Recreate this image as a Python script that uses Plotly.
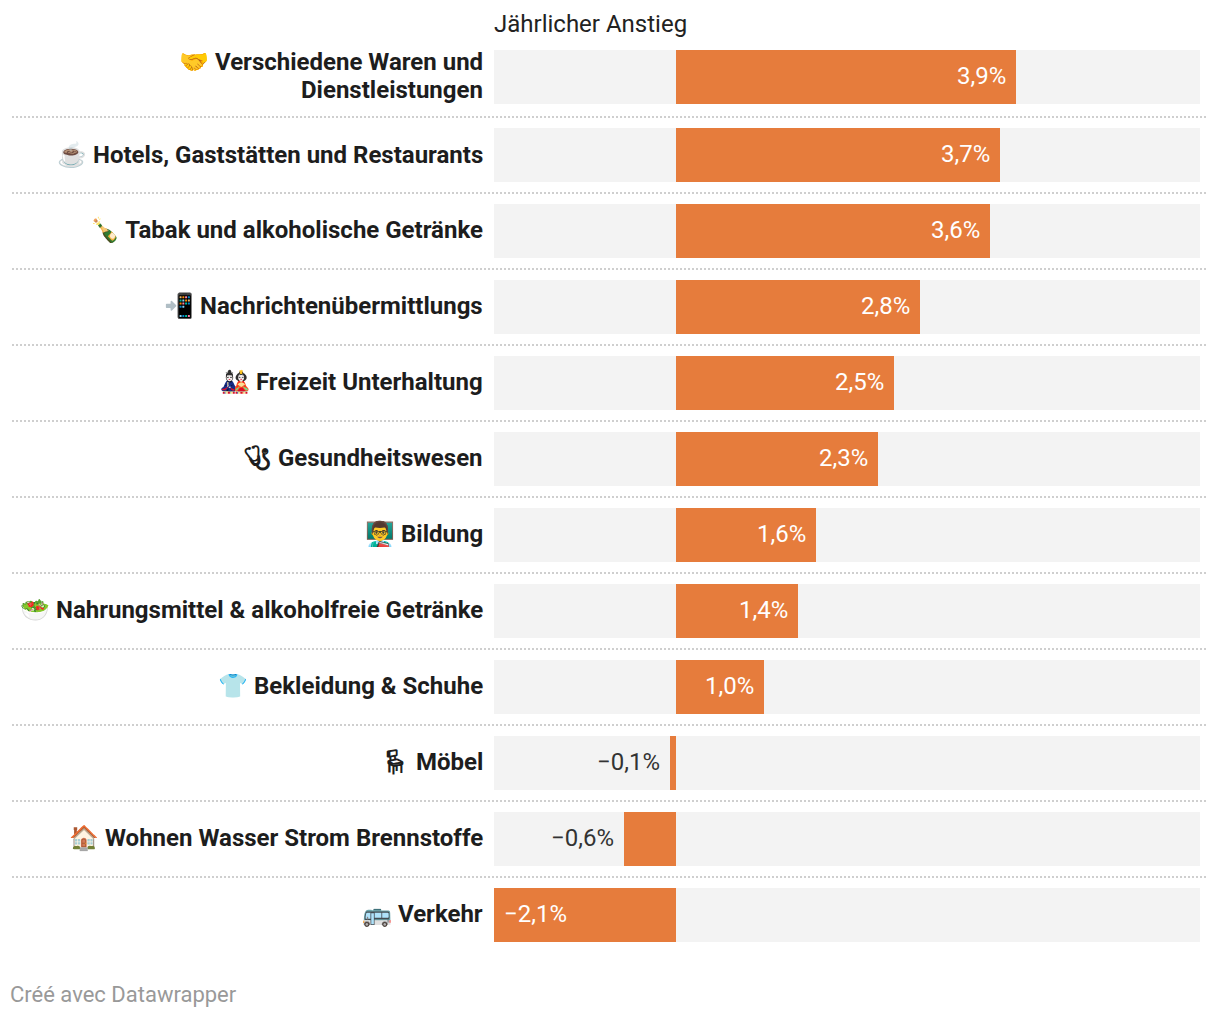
import plotly.graph_objects as go

categories = [
    "Hotels, Gaststätten und Restaurants", "Tabak und alkoholische Getränke",
    "Nachrichtenübermittlungs", "Freizeit Unterhaltung", "Gesundheitswesen", "Bildung",
    "Nahrungsmittel & alkoholfreie Getränke", "Bekleidung & Schuhe", "Möbel",
    "Wohnen Wasser Strom Brennstoffe", "Verkehr",
]
emojis = ["☕", "🍾", "📲", "🎎", "🩺\ufe0e", "👨‍🏫", "🥗", "👕", "🪑\ufe0e", "🏠", "🚌"]
values = [3.72, 3.6, 2.8, 2.5, 2.32, 1.6, 1.4, 1.01, -0.07, -0.6, -2.1]
top_lines = ["Verschiedene Waren und", "Dienstleistungen"]
top_emoji = "🤝"
top_value = [3.9]
title = "Jährlicher Anstieg"
credit = "Créé avec Datawrapper"
AXIS_MIN, AXIS_MAX = -2.09, 6.01
W, H = 1220, 1018
L, R = 494, 1200
ORANGE, GREY = "#e67c3c", "#f3f3f3"


def fmt(v):
    return ("−" if v < 0 else "") + f"{abs(v):.1f}".replace(".", ",") + "%"


def py(p):
    return 1 - p / H


def px(p):
    return (p - L) / (R - L)


fig = go.Figure()
rows = [f"{e} {c}" for e, c in zip(emojis, categories)]
span = AXIS_MAX - AXIS_MIN
fig.add_bar(y=rows, x=[span] * len(rows), base=AXIS_MIN, marker_color=GREY, width=54 / 76, hoverinfo="skip", yaxis="y")
fig.add_bar(y=rows, x=values, marker_color=ORANGE, width=54 / 76, yaxis="y")
fig.add_bar(y=["top"], x=[span], base=AXIS_MIN, marker_color=GREY, width=1, hoverinfo="skip", yaxis="y2")
fig.add_bar(y=["top"], x=top_value, marker_color=ORANGE, width=1, yaxis="y2")
for t in fig.data:
    t.orientation = "h"
    t.marker.line.width = 0

ann = []


def vlabel(v, yref, y):
    if v > 0:
        x, xa, xs, col = v, "right", -8, "#ffffff"
    elif v < -1:
        x, xa, xs, col = max(v, AXIS_MIN), "left", 8, "#ffffff"
    else:
        x, xa, xs, col = v, "right", -8, "#333333"
    ann.append(dict(x=x, y=y, xref="x", yref=yref, text=fmt(v), showarrow=False, xanchor=xa, xshift=xs, yshift=1,
                    yanchor="middle", font=dict(family="Roboto", size=24, color=col)))


def clabel(text, yref, y, yshift=0):
    ann.append(dict(x=0, y=y, xref="paper", yref=yref, text=f"<b>{text}</b>", showarrow=False, xanchor="right",
                    xshift=-9, yshift=yshift + 1, yanchor="middle", align="right",
                    font=dict(family="Roboto", size=24, color="#1d1d1d")))


clabel(f"{top_emoji} {top_lines[0]}", "y2", "top", 14)
clabel(top_lines[1], "y2", "top", -14)
vlabel(top_value[0], "y2", "top")
for r, v in zip(rows, values):
    clabel(r, "y", r)
    vlabel(v, "y", r)

ann.append(dict(x=0, y=py(24), xref="paper", yref="paper", text=title, showarrow=False, xanchor="left", xshift=-2,
                yanchor="middle", font=dict(family="Roboto", size=24, color="#222222")))
ann.append(dict(x=px(10), y=py(995), xref="paper", yref="paper", text=credit, showarrow=False, xanchor="left",
                xshift=-2, yshift=1, yanchor="middle", font=dict(family="Roboto", size=22, color="#999999")))

shapes = [dict(type="line", xref="paper", yref="paper", x0=px(12), x1=px(1208),
               y0=py(117 + 76 * i), y1=py(117 + 76 * i), line=dict(color="#cfcfcf", width=2, dash="2px 2px"))
          for i in range(11)]

fig.update_layout(
    width=W, height=H, autosize=False, barmode="overlay", bargap=0, showlegend=False,
    margin=dict(l=L, r=W - R, t=0, b=0), paper_bgcolor="white", plot_bgcolor="white",
    xaxis=dict(range=[AXIS_MIN, AXIS_MAX], visible=False, fixedrange=True),
    yaxis=dict(domain=[py(953), py(117)], type="category", categoryorder="array", categoryarray=rows[::-1],
               visible=False, fixedrange=True),
    yaxis2=dict(domain=[py(104), py(50)], type="category", range=[-0.5, 0.5], visible=False, fixedrange=True),
    annotations=ann, shapes=shapes,
)
fig.write_html("out.html", config={"displayModeBar": False}, post_script="document.body.style.margin='0';")
